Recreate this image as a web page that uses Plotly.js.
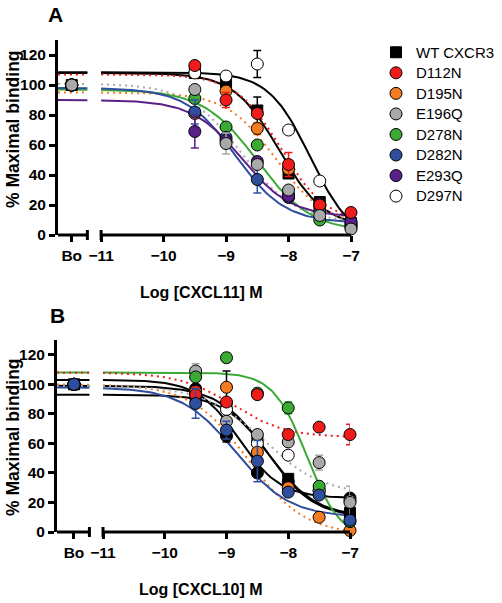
<!DOCTYPE html>
<html>
<head>
<meta charset="utf-8">
<script src="https://cdn.plot.ly/plotly-3.0.1.min.js"></script>
<style>html,body{margin:0;padding:0;background:#fff;} #chart{width:502px;height:603px;}</style>
</head>
<body>
<div id="chart"></div>
<script>
// ---------- shared ----------
const XBO = -11.47;                       // position of the "Bo" (no ligand) point
const conc = [-9.5, -9, -8.5, -8, -7.5, -7]; // log [chemokine] M
const xTickVals = [XBO, -11, -10, -9, -8, -7];
const xTickText = ['Bo', '\u221211', '\u221210', '\u22129', '\u22128', '\u22127'];
const yTickVals = [0, 20, 40, 60, 80, 100, 120];

// ---------- Panel A : CXCL11 ----------
const namesA   = ['WT CXCR3', 'D112N', 'D195N', 'E196Q', 'D278N', 'D282N', 'E293Q', 'D297N'];
const colorsA  = ['#000000', '#f01c1c', '#f47b20', '#a9a9a9', '#3aaa35', '#2f4f9e', '#5b1f8a', '#ffffff'];
const symbolsA = ['square', 'circle', 'circle', 'circle', 'circle', 'circle', 'circle', 'circle'];
const dashA    = ['solid', 'dot', 'dot', 'dot', 'solid', 'solid', 'solid', 'solid'];
// values: [Bo, -9.5, -9, -8.5, -8, -7.5, -7]
const valA_WT    = [100, 108, 101, 83, 41, 22, 8];
const valA_D112N = [100, 113, 90, 81, 47, 20, 15];
const valA_D195N = [100, 81, 96, 71, 44, 19, 6];
const valA_E196Q = [100, 97, 61, 47, 30, 13, 4];
const valA_D278N = [100, 91, 72, 60, 27, 10, 5];
const valA_D282N = [100, 82, 65, 37, 25, 16, 8];
const valA_E293Q = [100, 69, 63, 49, 26, 21, 9];
const valA_D297N = [100, 108, 106, 114, 70, 36, 7];
const errA_WT    = [0, 0, 0, 9, 0, 3, 0];
const errA_D112N = [0, 0, 5, 0, 8, 0, 0];
const errA_D195N = [0, 0, 0, 4, 0, 0, 0];
const errA_E196Q = [0, 0, 7, 0, 0, 0, 0];
const errA_D278N = [0, 0, 0, 0, 0, 0, 0];
const errA_D282N = [0, 8, 0, 9, 0, 0, 0];
const errA_E293Q = [0, 11, 0, 0, 0, 0, 0];
const errA_D297N = [0, 0, 0, 9, 0, 0, 0];
// fitted one-site curves (top, bottom, logIC50, Hill)
const fitTopA    = [108, 107, 95, 101, 97, 98, 90, 108.5];
const fitBottomA = [5, 8, 6, 8, 2, 8, 12, -5];
const fitLogIC50A = [-8.15, -8.12, -8.2, -8.75, -8.5, -8.85, -8.75, -7.65];
const fitHillA   = [1.2, 1.2, 1.1, 1.0, 1.0, 1.1, 1.1, 1.3];

// ---------- Panel B : CXCL10 ----------
const namesB   = ['WT CXCR3', 'Black circles', 'D297N', 'D195N', 'E196Q', 'D278N', 'D112N', 'D282N'];
const colorsB  = ['#000000', '#000000', '#ffffff', '#f47b20', '#a9a9a9', '#3aaa35', '#f01c1c', '#2f4f9e'];
const symbolsB = ['square', 'circle', 'circle', 'circle', 'circle', 'circle', 'circle', 'circle'];
const dashB    = ['solid', 'solid', 'solid', 'dot', 'dot', 'solid', 'dot', 'solid'];
const valB_WT     = [100, 92, 85, 62, 36, 27, 13];
const valB_Black  = [100, 97, 65, 40, 34, 28, 23];
const valB_D297N  = [100, 94, 83, 60, 52, 28, 21];
const valB_D195N  = [100, 95, 98, 54, 30, 10, 1];
const valB_E196Q  = [100, 109, 75, 66, 61, 47, 20];
const valB_D278N  = [100, 105, 118, 94, 84, 31, 7];
const valB_D112N  = [100, 93, 88, 93, 66, 71, 66];
const valB_D282N  = [100, 87, 69, 48, 27, 25, 8];
const errB_WT     = [0, 0, 24, 0, 0, 0, 0];
const errB_Black  = [0, 0, 0, 0, 0, 0, 0];
const errB_D297N  = [0, 0, 0, 0, 0, 0, 0];
const errB_D195N  = [0, 0, 0, 0, 0, 0, 0];
const errB_E196Q  = [0, 5, 0, 0, 0, 5, 11];
const errB_D278N  = [0, 0, 3, 0, 4, 0, 0];
const errB_D112N  = [0, 5, 0, 0, 0, 0, 7];
const errB_D282N  = [0, 10, 6, 14, 0, 0, 0];
const fitTopB     = [93, 103, 99, 100, 99, 108, 108, 98];
const fitBottomB  = [10, 23, 10, -2, 25, -5, 64, 10];
const fitLogIC50B = [-8.3, -8.8, -8.35, -8.65, -8.4, -7.7, -8.9, -8.85];
const fitHillB    = [1.2, 1.3, 1.1, 0.95, 0.9, 1.6, 1.0, 1.0];

const valuesA = [valA_WT, valA_D112N, valA_D195N, valA_E196Q, valA_D278N, valA_D282N, valA_E293Q, valA_D297N];
const errorsA = [errA_WT, errA_D112N, errA_D195N, errA_E196Q, errA_D278N, errA_D282N, errA_E293Q, errA_D297N];
const valuesB = [valB_WT, valB_Black, valB_D297N, valB_D195N, valB_E196Q, valB_D278N, valB_D112N, valB_D282N];
const errorsB = [errB_WT, errB_Black, errB_D297N, errB_D195N, errB_E196Q, errB_D278N, errB_D112N, errB_D282N];

// axis ranges / break
const xMinA = -11.69, xMinB = -11.745;
const breakEnd = -11.22, breakStart = -11, xMax = -7;

function logistic(x, top, bottom, ic, h) {
  return bottom + (top - bottom) / (1 + Math.pow(10, (x - ic) * h));
}
function curveTrace(xa, ya, xmin, top, bottom, ic, h, color, dash) {
  const xs = [], ys = [];
  xs.push(xmin, breakEnd, null);
  ys.push(logistic(xmin, top, bottom, ic, h), logistic(breakEnd, top, bottom, ic, h), null);
  for (let x = breakStart; x <= xMax + 1e-9; x += 0.04) {
    xs.push(x); ys.push(logistic(x, top, bottom, ic, h));
  }
  const lineColor = color === '#ffffff' ? '#000000' : color;
  return {
    type: 'scatter', mode: 'lines', x: xs, y: ys, xaxis: xa, yaxis: ya,
    line: {color: lineColor, width: 2, dash: dash === 'dot' ? '2px,4px' : 'solid'},
    showlegend: false, hoverinfo: 'skip', connectgaps: false, cliponaxis: false
  };
}
function pointTrace(xa, ya, name, vals, errs, color, symbol, showLegend, rank) {
  const errColor = color === '#ffffff' ? '#000000' : color;
  return {
    type: 'scatter', mode: 'markers',
    name: '<span style="font-size:15px">' + name + '</span>',
    x: [XBO].concat(conc), y: vals, xaxis: xa, yaxis: ya,
    marker: {color: color, symbol: symbol, size: symbol === 'square' ? 11 : 12, line: {color: '#000000', width: 1}},
    error_y: {type: 'data', array: errs, visible: true, color: errColor, thickness: 1.5, width: 4},
    showlegend: showLegend, legendrank: rank, cliponaxis: false
  };
}

const traces = [];
for (let i = 0; i < namesA.length; i++) {
  traces.push(curveTrace('x', 'y', xMinA, fitTopA[i], fitBottomA[i], fitLogIC50A[i], fitHillA[i], colorsA[i], dashA[i]));
}
const drawOrderA = [0, 7, 2, 4, 5, 6, 1, 3];
drawOrderA.forEach(i => {
  traces.push(pointTrace('x', 'y', namesA[i], valuesA[i], errorsA[i], colorsA[i], symbolsA[i], true, i + 1));
});
for (let i = 0; i < namesB.length; i++) {
  traces.push(curveTrace('x2', 'y2', xMinB, fitTopB[i], fitBottomB[i], fitLogIC50B[i], fitHillB[i], colorsB[i], dashB[i]));
}
for (let i = 0; i < namesB.length; i++) {
  traces.push(pointTrace('x2', 'y2', namesB[i], valuesB[i], errorsB[i], colorsB[i], symbolsB[i], false, 100 + i));
}

const W = 502, H = 603;
const tickFont = {family: 'Liberation Sans, Arial, sans-serif', size: 15.5, color: '#000', weight: 'bold'};
function xAxis(anchor, xmin, dom) {
  return {domain: dom, anchor: anchor, range: [xmin, xMax], tickmode: 'array', tickvals: xTickVals, ticktext: xTickText,
    ticks: 'outside', ticklen: 6, tickwidth: 3, tickcolor: '#000', showline: false, showgrid: false, zeroline: false,
    tickfont: tickFont, fixedrange: true};
}
function yAxis(anchor, dom) {
  return {domain: dom, anchor: anchor, range: [0, 130], tickmode: 'array', tickvals: yTickVals,
    ticks: 'outside', ticklen: 6, tickwidth: 3, tickcolor: '#000', showline: true, linewidth: 3, linecolor: '#000',
    showgrid: false, zeroline: false, tickfont: tickFont, fixedrange: true};
}
const domYA = [(H - 235) / H, (H - 40) / H];
const domYB = [(H - 532) / H, (H - 340) / H];

function axisShapes(xref, xmin, ybottom) {
  const cap = 5 / H;
  const ln = {color: '#000', width: 3};
  return [
    {type: 'line', xref: xref, yref: 'paper', x0: xmin, x1: breakEnd, y0: ybottom, y1: ybottom, line: ln},
    {type: 'line', xref: xref, yref: 'paper', x0: breakStart, x1: xMax, y0: ybottom, y1: ybottom, line: ln},
    {type: 'line', xref: xref, yref: 'paper', x0: breakEnd, x1: breakEnd, y0: ybottom - cap, y1: ybottom + cap, line: ln},
    {type: 'line', xref: xref, yref: 'paper', x0: breakStart, x1: breakStart, y0: ybottom - cap, y1: ybottom + cap, line: ln}
  ];
}

const boldFont = (s) => ({family: 'Liberation Sans, Arial, sans-serif', size: s, color: '#000', weight: 'bold'});
function note(text, px, py, size, angle) {
  return {text: text, xref: 'paper', yref: 'paper', x: px / W, y: 1 - py / H, xanchor: 'center', yanchor: 'middle',
    textangle: angle || 0, showarrow: false, font: boldFont(size)};
}
const layout = {
  width: W, height: H,
  margin: {l: 0, r: 0, t: 0, b: 0},
  paper_bgcolor: '#fff', plot_bgcolor: 'rgba(0,0,0,0)',
  xaxis: xAxis('y', xMinA, [58 / W, 351 / W]),
  yaxis: yAxis('x', domYA),
  xaxis2: xAxis('y2', xMinB, [57 / W, 350 / W]),
  yaxis2: yAxis('x2', domYB),
  shapes: axisShapes('x', xMinA, domYA[0]).concat(axisShapes('x2', xMinB, domYB[0])),
  showlegend: true,
  legend: {x: 376 / W, y: 1 - 37 / H, xanchor: 'left', yanchor: 'top', bgcolor: 'rgba(0,0,0,0)',
    font: {family: 'Liberation Sans, Arial, sans-serif', size: 13.5, color: '#000'}, tracegroupgap: 0, itemclick: false},
  annotations: [
    note('A', 55, 15, 21),
    note('B', 57, 315, 21),
    note('Log [CXCL11] M', 201, 292, 16),
    note('Log [CXCL10] M', 201, 589, 16),
    note('% Maximal binding', 13, 129, 17.5, -90),
    note('% Maximal binding', 13, 437, 17.5, -90)
  ]
};
Plotly.newPlot('chart', traces, layout, {displayModeBar: false, staticPlot: true});
</script>
</body>
</html>
